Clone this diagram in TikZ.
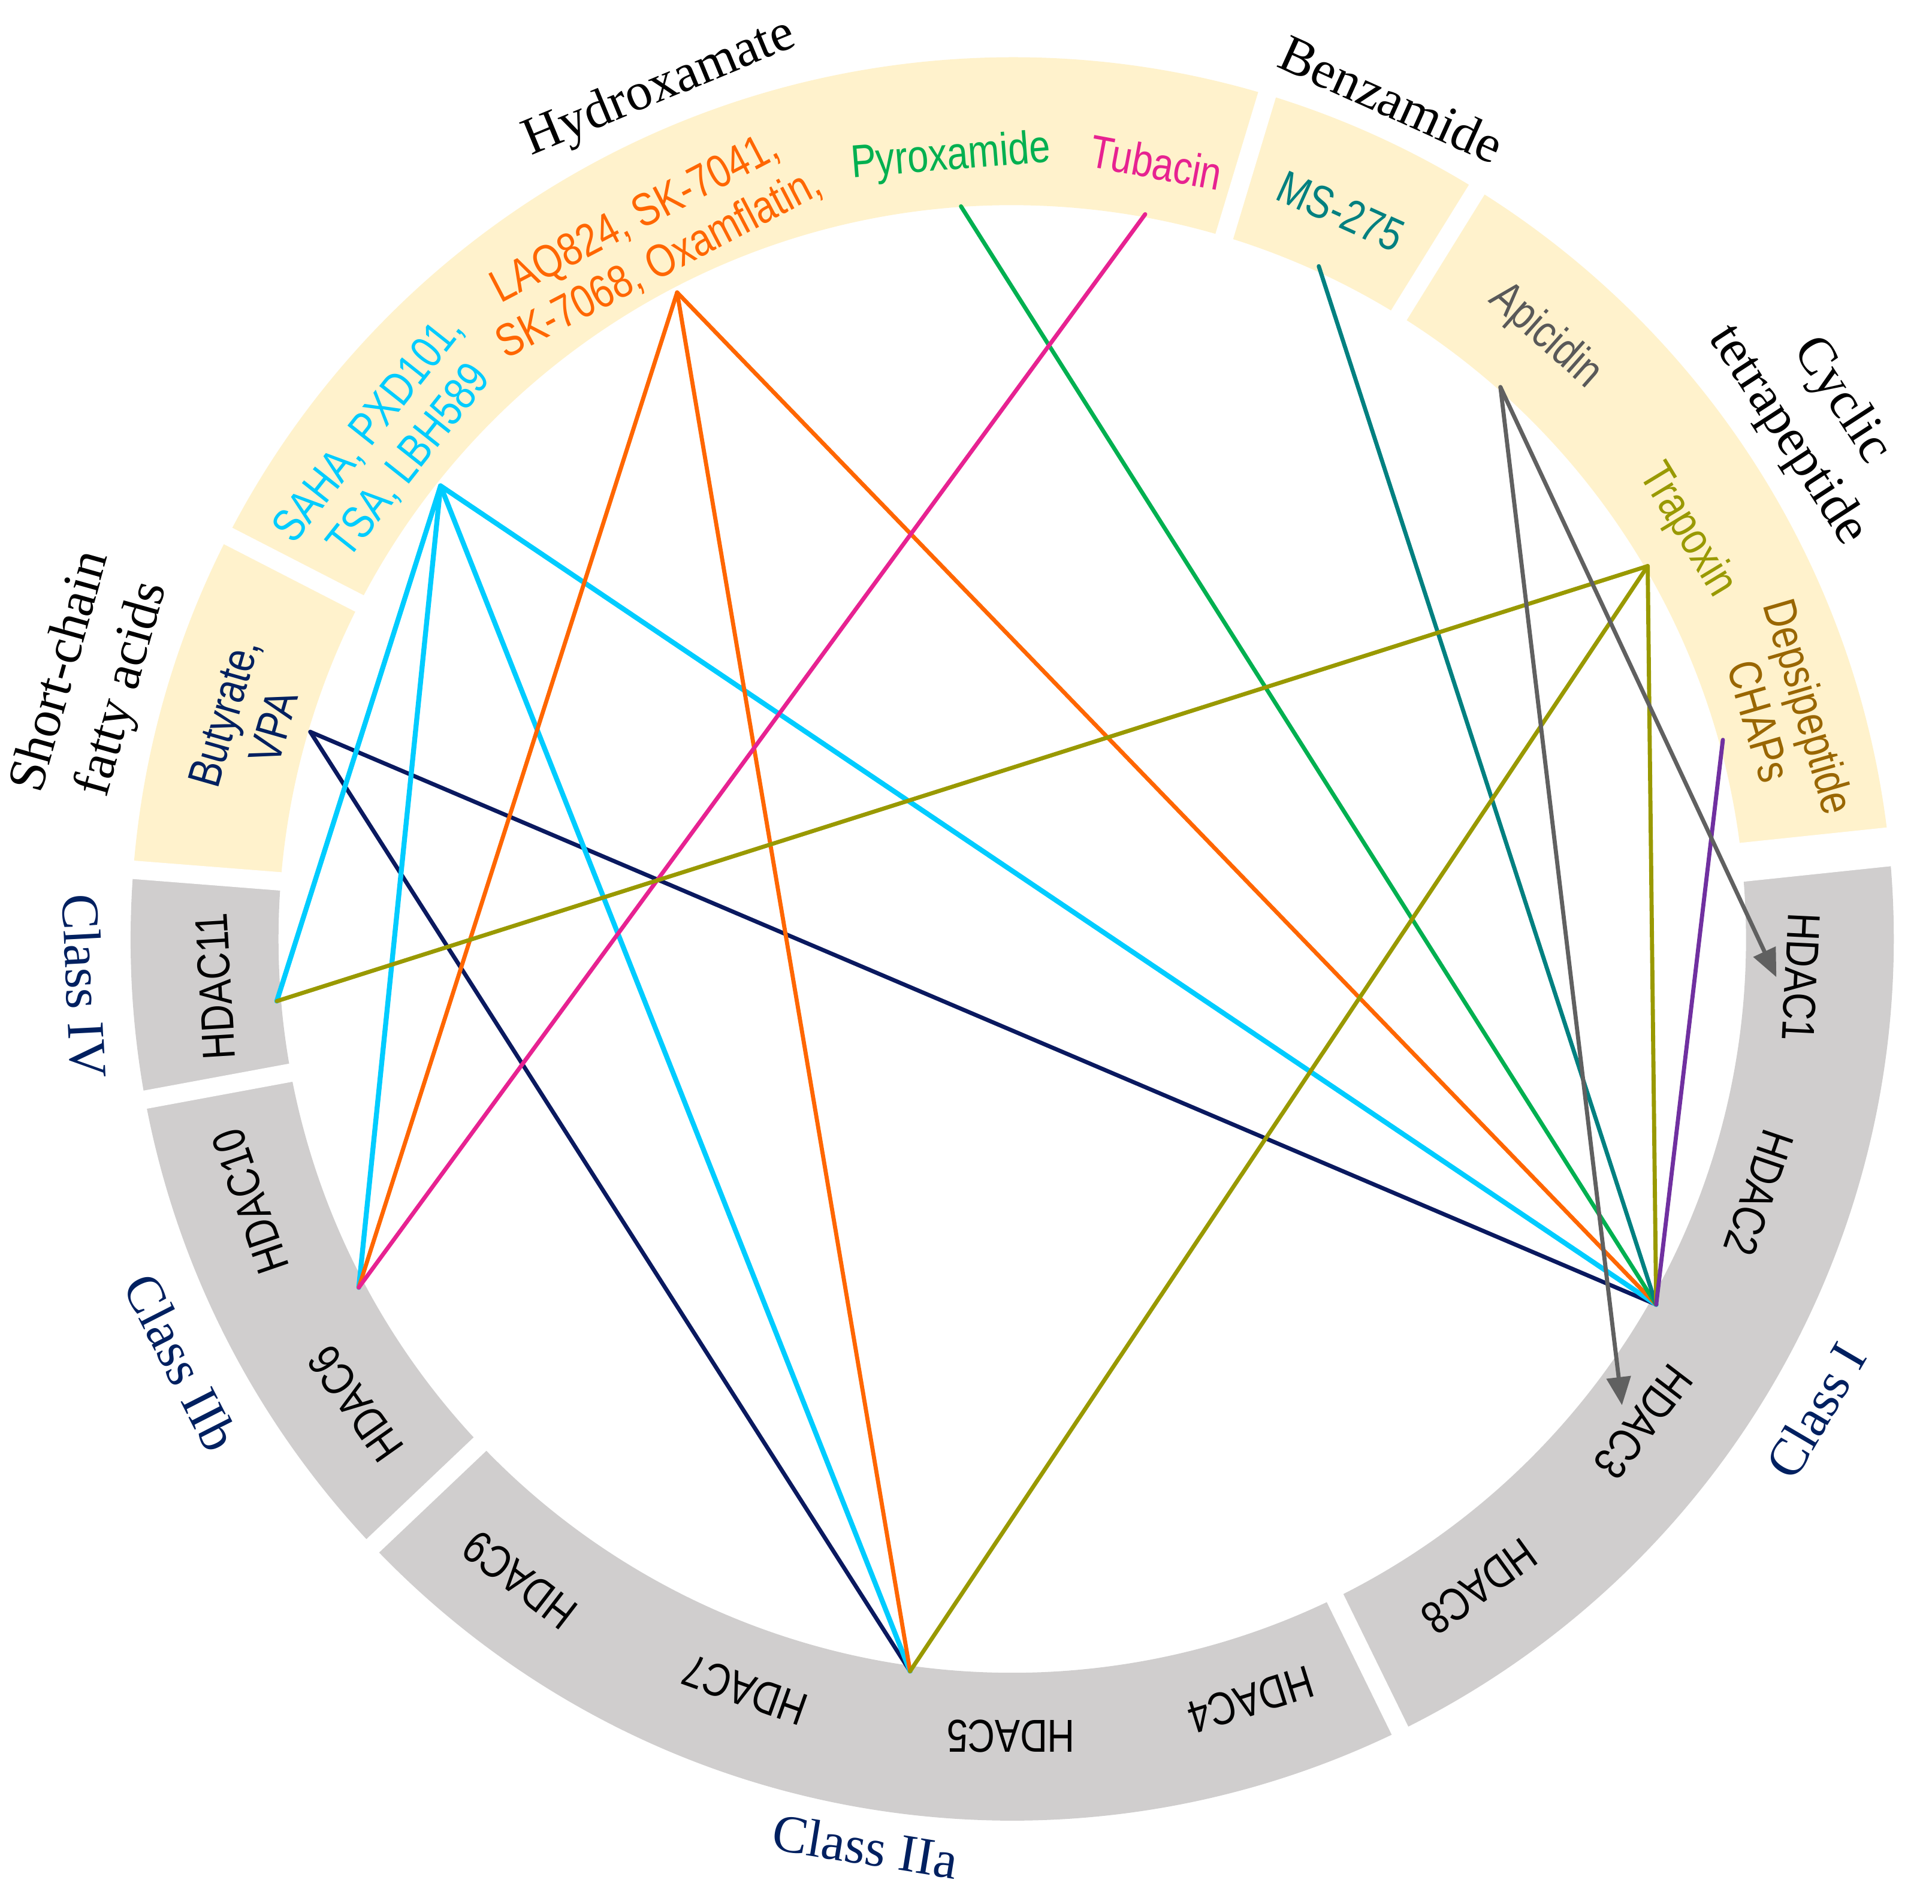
\documentclass[tikz,border=0pt]{standalone}
\usepackage{fontspec}
\setmainfont{Liberation Serif}
\newfontfamily\lsans[FakeStretch=0.82]{Liberation Sans}
\usetikzlibrary{arrows.meta}

\definecolor{beige}{HTML}{FFF2CC}
\definecolor{grayband}{HTML}{D0CECE}
\definecolor{navytext}{HTML}{002060}
\definecolor{cyanc}{RGB}{0,204,255}
\definecolor{orangec}{RGB}{255,102,0}
\definecolor{greenc}{RGB}{0,176,80}
\definecolor{magentac}{RGB}{231,34,145}
\definecolor{tealc}{RGB}{0,128,128}
\definecolor{apigray}{RGB}{89,89,89}
\definecolor{arrowgray}{RGB}{96,96,96}
\definecolor{olivec}{RGB}{153,153,0}
\definecolor{depsic}{RGB}{153,102,0}
\definecolor{purplec}{RGB}{112,48,160}
\definecolor{navyline}{RGB}{10,25,95}

\begin{document}
\begin{tikzpicture}[x=0.02cm,y=0.02cm,
  seriflab/.style={font=\fontsize{24.5}{29.6}\selectfont, align=center, inner sep=0pt},
  classlab/.style={seriflab, text=navytext},
  sanslab/.style={font=\lsans\fontsize{21.3}{24}\selectfont, align=center, inner sep=0pt},
  hdaclab/.style={sanslab, text=black},
  link/.style={line width=1.9pt, line cap=round},
  thicklink/.style={line width=2.3pt, line cap=round},
  gapline/.style={white, line width=8.5pt},
  tip/.style={-{Triangle[length=13pt,width=11pt]}}
]
\useasboundingbox (-821.5,-783) rectangle (746.5,762);

% ring segments
\fill[beige] (6:715.5) arc[start angle=6,end angle=175.5,radius=715.5]
  -- (175.5:595.5) arc[start angle=175.5,end angle=6,radius=595.5] -- cycle;
\fill[grayband] (175.5:715.5) arc[start angle=175.5,end angle=366,radius=715.5]
  -- (366:595.5) arc[start angle=366,end angle=175.5,radius=595.5] -- cycle;
% gaps
\foreach \a in {175.5,152.8,73.2,58.2,-63.9,-136.5,-169.5}
  \draw[gapline] (\a:585) -- (\a:726);
\draw[white, line width=18pt] (6:585) -- (6:726);

% outer group labels
\node[seriflab, rotate=22.5] (hydrox) at (112.5:747) {Hydroxamate};
\node[seriflab, rotate=-24.3] (benz) at (65.7:748) {Benzamide};
\node[seriflab, rotate=-57] (cyc) at (33:776) {Cyclic\\tetrapeptide};
\node[seriflab, rotate=74.3] (scfa) at (164.3:775) {Short-chain\\fatty acids};

% class labels
\node[classlab, rotate=-87.1] (cIV) at (-177.1:754) {Class IV};
\node[classlab, rotate=-63] (cIIb) at (-153:757) {Class IIb};
\node[classlab, rotate=-9.2] (cIIa) at (-99.2:746) {Class IIa};
\node[classlab, rotate=59.6] (cI) at (-30.4:756) {Class I};

% drug labels
\node[sanslab, text=cyanc, rotate=51.6] (sahalab) at (141.6:645) {SAHA, PXD101,\\TSA, LBH589};
\node[sanslab, text=orangec, rotate=27.6] (laqlab) at (117.6:639) {LAQ824, SK-7041,\\SK-7068, Oxamflatin,};
\node[sanslab, text=greenc, rotate=4.5] (pyrolab) at (94.5:636) {Pyroxamide};
\node[sanslab, text=magentac, rotate=-10.5] (tubalab) at (79.5:641) {Tubacin};
\node[sanslab, text=tealc, rotate=-24.3] (mslab) at (65.7:648) {MS-275};
\node[sanslab, text=apigray, rotate=-41.5] (apilab) at (48.5:653) {Apicidin};
\node[sanslab, text=olivec, rotate=-58.8] (traplab) at (31.2:640) {Trapoxin};
\node[sanslab, text=depsic, rotate=-73.75] (depslab) at (16.25:653) {Depsipeptide\\CHAPs};
\node[sanslab, text=navytext, rotate=74] (butylab) at (164:645) {Butyrate,\\VPA};

% HDAC labels
\foreach \n/\a/\r in {11/-176.6/648, 10/-161/654, 6/-144.7/653, 9/-127.55/656,
  7/-109.6/647, 5/-90.1/647, 4/-72.6/647, 8/-54.2/648, 3/-37.4/645,
  2/-18.76/640, 1/-2.76/641}
  \node[hdaclab, rotate=\a-90] (hlab\n) at (\a:\r) {HDAC\n};

% connection points
\coordinate (saha) at (141.6:592);
\coordinate (laq) at (117.4:591);
\coordinate (pyro) at (94.0:596);
\coordinate (tuba) at (79.6:598);
\coordinate (ms) at (65.5:600);
\coordinate (api) at (48.5:598);
\coordinate (trap) at (30.4:598);
\coordinate (deps) at (15.65:599);
\coordinate (buty) at (163.56:594);
\coordinate (h11) at (-175.17:599);
\coordinate (h6) at (-151.93:601);
\coordinate (h5) at (-97.94:600);
\coordinate (c1) at (-29.58:601);
\coordinate (h1tip) at (-2.86:621);
\coordinate (h3tip) at (-37.4:623);

% connectors
\draw[link, navyline] (buty) -- (h5);
\draw[link, navyline] (buty) -- (c1);
\draw[thicklink, cyanc] (saha) -- (h11);
\draw[thicklink, cyanc] (saha) -- (h6);
\draw[thicklink, cyanc] (saha) -- (h5);
\draw[thicklink, cyanc] (saha) -- (c1);
\draw[link, orangec] (laq) -- (h6);
\draw[link, orangec] (laq) -- (h5);
\draw[link, orangec] (laq) -- (c1);
\draw[link, greenc] (pyro) -- (c1);
\draw[link, magentac] (tuba) -- (h6);
\draw[link, tealc] (ms) -- (c1);
\draw[link, olivec] (trap) -- (h11);
\draw[link, olivec] (trap) -- (h5);
\draw[link, olivec] (trap) -- (c1);
\draw[link, purplec] (deps) -- (c1);
\draw[link, arrowgray, tip] (api) -- (h1tip);
\draw[link, arrowgray, tip] (api) -- (h3tip);
\end{tikzpicture}
\end{document}
